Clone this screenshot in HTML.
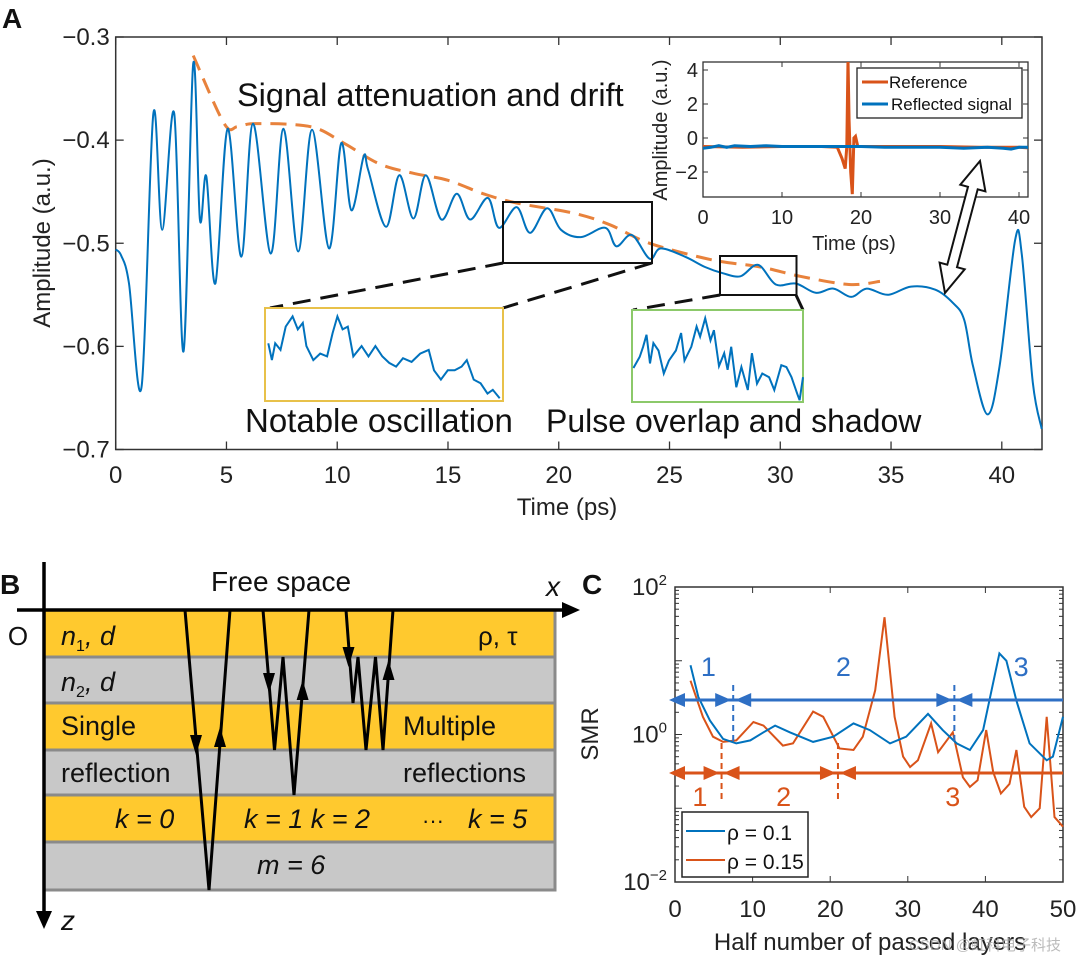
<!DOCTYPE html>
<html><head><meta charset="utf-8">
<style>
html,body{margin:0;padding:0;background:#fff;}
svg{display:block;font-family:"Liberation Sans","Noto Sans CJK SC",sans-serif;}
</style></head>
<body>
<svg id="fig" width="1080" height="962" viewBox="0 0 1080 962" xmlns="http://www.w3.org/2000/svg">
<defs><clipPath id="inclip"><rect x="703" y="62" width="325" height="135"/></clipPath></defs>
<g id="panelA"></g>
<g id="panelB"></g>
<g id="panelC"></g>
</svg>
<script>
// ---------- Panel A data ----------
const sigT = [0,0.25,0.6,1.17,1.7,2.1,2.64,3.06,3.5,3.8,4.09,4.5,5.05,5.67,6.2,7.0,7.57,8.24,8.86,9.63,10.18,10.64,11.19,11.4,12.2,12.8,13.44,14.0,14.7,15.4,16.0,16.8,17.3,18.1,18.7,19.47,20.1,21.0,22.1,22.6,23.3,24.1,24.6,25.7,26.6,27.4,28.2,29.0,29.8,30.7,31.6,32.4,33.2,33.9,34.86,35.9,37.0,37.8,38.3,38.7,39.36,39.9,40.6,40.9,41.4,41.8];
const sigA = [-0.506,-0.512,-0.539,-0.639,-0.374,-0.487,-0.374,-0.605,-0.326,-0.477,-0.435,-0.539,-0.389,-0.513,-0.384,-0.51,-0.389,-0.508,-0.39,-0.505,-0.403,-0.468,-0.416,-0.429,-0.484,-0.434,-0.476,-0.434,-0.477,-0.452,-0.477,-0.456,-0.485,-0.465,-0.49,-0.466,-0.487,-0.494,-0.485,-0.503,-0.492,-0.515,-0.505,-0.513,-0.523,-0.529,-0.532,-0.521,-0.54,-0.539,-0.548,-0.544,-0.552,-0.544,-0.55,-0.542,-0.545,-0.558,-0.574,-0.619,-0.666,-0.619,-0.497,-0.51,-0.635,-0.68];
const envT = [3.5,4.9,5.5,6.3,8.8,10.3,11.9,13.4,15.0,16.6,18.1,20.7,22.3,24.1,26.9,29.1,30.9,33.1,34.5];
const envA = [-0.318,-0.384,-0.387,-0.384,-0.387,-0.403,-0.423,-0.432,-0.439,-0.452,-0.461,-0.471,-0.482,-0.5,-0.516,-0.523,-0.532,-0.54,-0.537];
const xTicksA = [0,5,10,15,20,25,30,35,40];
const yTicksA = [-0.3,-0.4,-0.5,-0.6,-0.7];
const refT = [0,5,10,15,17,17.6,18.0,18.2,18.35,18.5,18.7,18.9,19.1,19.3,19.6,25,30,35,40,41.7];
const refV = [-0.5,-0.55,-0.5,-0.5,-0.55,-1.2,-1.8,-0.5,4.6,1,-2,-3.3,0,0.1,-0.5,-0.5,-0.5,-0.55,-0.55,-0.6];
const reflT = [0,1,2,3,4,6,8,10,12,15,18,20,23,26,30,33,36,38,39,40,41,41.7];
const reflV = [-0.6,-0.55,-0.45,-0.55,-0.45,-0.5,-0.45,-0.5,-0.5,-0.5,-0.5,-0.5,-0.55,-0.55,-0.55,-0.6,-0.55,-0.6,-0.65,-0.55,-0.55,-0.65];
const inXTicks = [0,10,20,30,40];
const inYTicks = [4,2,0,-2];
const zoomAu = [0.014,0.029,0.043,0.065,0.087,0.116,0.138,0.159,0.174,0.203,0.232,0.261,0.284,0.304,0.326,0.348,0.371,0.406,0.435,0.464,0.493,0.522,0.551,0.58,0.616,0.652,0.688,0.710,0.739,0.768,0.797,0.826,0.848,0.877,0.906,0.935,0.957,0.986];
const zoomAv = [0.38,0.56,0.38,0.45,0.2,0.09,0.23,0.16,0.41,0.56,0.49,0.52,0.27,0.09,0.23,0.2,0.52,0.41,0.52,0.41,0.52,0.59,0.63,0.54,0.58,0.49,0.45,0.67,0.77,0.67,0.67,0.63,0.56,0.77,0.81,0.92,0.88,0.97];
const zoomBu = [0.008,0.045,0.065,0.085,0.105,0.125,0.155,0.186,0.216,0.257,0.287,0.307,0.347,0.378,0.398,0.428,0.459,0.479,0.509,0.539,0.559,0.58,0.61,0.64,0.677,0.701,0.731,0.762,0.802,0.832,0.873,0.903,0.933,0.966,0.98,1.0];
const zoomBv = [0.63,0.51,0.4,0.27,0.58,0.36,0.44,0.69,0.55,0.44,0.25,0.55,0.4,0.18,0.29,0.09,0.33,0.22,0.61,0.47,0.65,0.4,0.84,0.62,0.87,0.47,0.8,0.69,0.73,0.87,0.6,0.62,0.73,0.91,0.98,0.73];
// ---------- Panel C data ----------
const c1X = [2,3,4.5,6.2,7.9,9.7,11.4,12.9,14.8,17.8,20.4,23,25.1,27.7,29.8,32.6,34.5,36.3,38,39.7,41.8,42.7,44,45.7,47.9,48.7,50];
const c1L = [0.94,0.51,0.19,-0.06,-0.12,-0.08,0.03,0.12,0.03,-0.1,-0.03,0.15,0.06,-0.12,-0.03,0.28,0.06,-0.12,-0.21,0.06,1.1,1.0,0.46,-0.12,-0.35,-0.3,0.24];
const c2X = [2,3.6,4.9,6.2,7.9,10.1,11.4,13.9,15.2,17.8,19.1,21.2,23,24.2,25.8,27,28.3,29.4,30.3,31.3,33,33.9,35.8,37.1,38,39,40.1,41,42,43.1,44,45,45.9,47,47.9,48.9,50];
const c2L = [0.73,0.24,-0.03,-0.1,-0.08,0.17,0.12,-0.15,-0.12,0.31,0.24,-0.19,-0.21,-0.03,0.6,1.59,0.24,-0.3,-0.44,-0.35,0.15,-0.24,0.03,-0.58,-0.71,-0.62,0.06,-0.51,-0.8,-0.67,-0.21,-0.98,-1.12,-1.0,0.24,-1.12,-1.25];
const xTicksC = [0,10,20,30,40,50];
const blueSplits = [7.5,36];
const orangeSplits = [6,21];

const NS="http://www.w3.org/2000/svg";
const BLUE="#0072BD", ORANGE="#D95319", ENV="#E8823C";
function el(tag, attrs, parent){const e=document.createElementNS(NS,tag);for(const k in attrs)e.setAttribute(k,attrs[k]);parent.appendChild(e);return e;}
function txt(parent,x,y,s,size,anchor,extra){const t=el('text',Object.assign({x:x,y:y,'font-size':size,'text-anchor':anchor||'start',fill:'#111'},extra||{}),parent);t.textContent=s;return t;}
function catmull(pts){let d=`M${pts[0][0]},${pts[0][1]}`;for(let i=0;i<pts.length-1;i++){const p0=pts[Math.max(0,i-1)],p1=pts[i],p2=pts[i+1],p3=pts[Math.min(pts.length-1,i+2)];const c1=[p1[0]+(p2[0]-p0[0])/6,p1[1]+(p2[1]-p0[1])/6],c2=[p2[0]-(p3[0]-p1[0])/6,p2[1]-(p3[1]-p1[1])/6];d+=` C${c1[0].toFixed(1)},${c1[1].toFixed(1)} ${c2[0].toFixed(1)},${c2[1].toFixed(1)} ${p2[0].toFixed(1)},${p2[1].toFixed(1)}`;}return d;}
function poly(pts){return 'M'+pts.map(p=>p[0].toFixed(1)+','+p[1].toFixed(1)).join(' L');}

// ===== Panel A =====
const A=document.getElementById('panelA');
const aL=115.7,aR=1042,aT=37,aB=449.5;
const ax=t=>aL+t*(1001.8-aL)/40, ay=v=>aT+(-0.3-v)*(aB-aT)/0.4;
let t,p,r;
t=txt(A,2,28,'A',28,'start',{'font-weight':'bold'});


const frame=el('rect',{x:aL,y:aT,width:aR-aL,height:aB-aT,fill:'none',stroke:'#333','stroke-width':1.5},A);


xTicksA.forEach(v=>{const x=ax(v);el('line',{x1:x,x2:x,y1:aB,y2:aB-8,stroke:'#333','stroke-width':1.3},A);el('line',{x1:x,x2:x,y1:aT,y2:aT+8,stroke:'#333','stroke-width':1.3},A);
 const l=txt(A,x,483,String(v),24,'middle',{fill:'#222'});
 
 });
yTicksA.forEach(v=>{const y=ay(v);el('line',{x1:aL,x2:aL+8,y1:y,y2:y,stroke:'#333','stroke-width':1.3},A);el('line',{x1:aR,x2:aR-8,y1:y,y2:y,stroke:'#333','stroke-width':1.3},A);
 const l=txt(A,aL-6,y+8,'\u2212'+Math.abs(v).toFixed(1),24,'end',{fill:'#222'});
 
 });
t=txt(A,567,515,'Time (ps)',24,'middle',{fill:'#222'});


t=txt(A,0,0,'Amplitude (a.u.)',24,'middle',{fill:'#222',transform:'translate(50,243) rotate(-90)'});


const env=el('path',{d:catmull(envT.map((v,i)=>[ax(v),ay(envA[i])])),fill:'none',stroke:ENV,'stroke-width':3,'stroke-dasharray':'16,9'},A);


const sig=el('path',{d:catmull(sigT.map((v,i)=>[ax(v),ay(sigA[i])])),fill:'none',stroke:BLUE,'stroke-width':2},A);


t=txt(A,237,106,'Signal attenuation and drift',32.5,'start');


t=txt(A,245,432,'Notable oscillation',33,'start');


t=txt(A,546,432,'Pulse overlap and shadow',32,'start');


r=el('rect',{x:503,y:202,width:149,height:61,fill:'none',stroke:'#111','stroke-width':2},A);


r=el('rect',{x:720,y:256,width:76.5,height:39,fill:'none',stroke:'#111','stroke-width':2},A);


[[503,263,270,308],[652,263,503,308],[720,295,633,310],[796,295,803,310]].forEach(s=>{const l=el('line',{x1:s[0],y1:s[1],x2:s[2],y2:s[3],stroke:'#111','stroke-width':3,'stroke-dasharray':'18,10'},A);
 
 });
function detail(x,y,w,h,col,us,vs,name){const b=el('rect',{x:x,y:y,width:w,height:h,fill:'#fff',stroke:col,'stroke-width':2},A);
 
 
 const q=el('path',{d:poly(us.map((u,i)=>[x+u*w,y+vs[i]*h])),fill:'none',stroke:BLUE,'stroke-width':2},A);
 
 }
detail(265,308,238,93,'#E8C14A',zoomAu,zoomAv,'oscillation-detail');
detail(632,310,171,92,'#8CC96A',zoomBu,zoomBv,'overlap-detail');
// inset
const iL=703,iR=1028,iT=62,iB=197;
const ix=v=>iL+v*(1019-iL)/40, iy=v=>138-v*17;
const ib=el('rect',{x:iL,y:iT,width:iR-iL,height:iB-iT,fill:'#fff',stroke:'#333','stroke-width':1.3},A);


inXTicks.forEach(v=>{const x=ix(v);el('line',{x1:x,x2:x,y1:iB,y2:iB-5,stroke:'#333'},A);el('line',{x1:x,x2:x,y1:iT,y2:iT+5,stroke:'#333'},A);
 const l=txt(A,x,224,String(v),20,'middle',{fill:'#222'});
 
 });
inYTicks.forEach(v=>{const y=iy(v);el('line',{x1:iL,x2:iL+5,y1:y,y2:y,stroke:'#333'},A);el('line',{x1:iR,x2:iR-5,y1:y,y2:y,stroke:'#333'},A);
 const l=txt(A,iL-5,y+7,(v<0?'\u2212':'')+Math.abs(v),20,'end',{fill:'#222'});
 
 });
t=txt(A,854,250,'Time (ps)',20,'middle',{fill:'#222'});


t=txt(A,0,0,'Amplitude (a.u.)',20,'middle',{fill:'#222',transform:'translate(667,130) rotate(-90)'});


p=el('path',{d:poly(refT.map((v,i)=>[ix(v),iy(refV[i])])),fill:'none',stroke:ORANGE,'stroke-width':3,'clip-path':'url(#inclip)'},A);


p=el('path',{d:poly(reflT.map((v,i)=>[ix(v),iy(reflV[i])])),fill:'none',stroke:BLUE,'stroke-width':3,'clip-path':'url(#inclip)'},A);


const lg=el('rect',{x:857,y:68,width:165,height:50,fill:'#fff',stroke:'#222','stroke-width':1.3},A);


el('line',{x1:862,x2:888,y1:82,y2:82,stroke:ORANGE,'stroke-width':3},A);
el('line',{x1:862,x2:888,y1:104,y2:104,stroke:BLUE,'stroke-width':3},A);
t=txt(A,889,88,'Reference',17,'start');


t=txt(A,891,110,'Reflected signal',17,'start');


// double arrow (drawn over inset)
(function(){const P1=[980,161],P2=[945,293];const dx=P2[0]-P1[0],dy=P2[1]-P1[1],L=Math.hypot(dx,dy);const u=[dx/L,dy/L],n=[-u[1],u[0]];
 const hl=28,hw=13,sw=5;const f=(b,a,w)=>[(b[0]+u[0]*a+n[0]*w).toFixed(1),(b[1]+u[1]*a+n[1]*w).toFixed(1)].join(',');
 const pts=[f(P1,0,0),f(P1,hl,hw),f(P1,hl,sw),f(P2,-hl,sw),f(P2,-hl,hw),f(P2,0,0),f(P2,-hl,-hw),f(P2,-hl,-sw),f(P1,hl,-sw),f(P1,hl,-hw)];
 const d=el('path',{d:'M'+pts.join(' L')+' Z',fill:'#fff',stroke:'#111','stroke-width':2,'stroke-linejoin':'miter'},A);
 
 })();

// ===== Panel B =====
const B=document.getElementById('panelB');
t=txt(B,0,594,'B',28,'start',{'font-weight':'bold'});


const layerY=[610,657,703,750,795,842,890];
for(let i=0;i<6;i++){const rr=el('rect',{x:44,y:layerY[i],width:511,height:layerY[i+1]-layerY[i],fill:i%2?'#C8C8C8':'#FFC92E',stroke:'#8a8a8a','stroke-width':3},B);
 
 }
el('line',{x1:17,x2:566,y1:610,y2:610,stroke:'#000','stroke-width':3.5},B);
el('path',{d:'M580,610 L562,602 L562,618 Z',fill:'#000'},B);
el('line',{x1:44,x2:44,y1:562,y2:915,stroke:'#000','stroke-width':3.5},B);
el('path',{d:'M44,929 L36,911 L52,911 Z',fill:'#000'},B);
const Blab=[['Free space',281,591,'middle',28,''],['x',553,596,'middle',28,'italic'],['O',18,645,'middle',26,''],['z',68,930,'middle',28,'italic'],
['ρ, τ',478,645,'start',26,''],['Single',61,735,'start',27,''],['Multiple',403,735,'start',27,''],['reflection',61,782,'start',27,''],['reflections',403,782,'start',27,''],
['k = 0',115,828,'start',27,'italic'],['k = 1 k = 2',244,828,'start',27,'italic'],['···',422,828,'start',22,''],['k = 5',468,828,'start',27,'italic'],['m = 6',257,874,'start',27,'italic']];
Blab.forEach(b=>{const l=txt(B,b[1],b[2],b[0],b[4],b[3],b[5]?{'font-style':b[5]}:{});
 
 });
t=el('text',{x:61,y:645,'font-size':27,'font-style':'italic',fill:'#111'},B);t.innerHTML='n<tspan font-size="16" dy="6" font-style="normal">1</tspan><tspan dy="-6">, d</tspan>';


t=el('text',{x:61,y:691,'font-size':27,'font-style':'italic',fill:'#111'},B);t.innerHTML='n<tspan font-size="16" dy="6" font-style="normal">2</tspan><tspan dy="-6">, d</tspan>';


const rays=[[[185,610],[209,890],[230,610]],[[263,610],[274.5,750],[283,657],[294,795],[309,610]],[[346,610],[353,703],[358,657],[366,750],[375.5,657],[383,750],[393,610]]];
rays.forEach(rp=>{const l=el('path',{d:poly(rp),fill:'none',stroke:'#000','stroke-width':3,'stroke-linejoin':'miter'},B);
 
 });
[[196,745,1],[220,737,-1],[269,683,1],[302.6,690,-1],[348.5,657,1],[388.5,670,-1]].forEach(a=>{const d=a[2];
 el('path',{d:`M${a[0]},${a[1]+d*10} L${a[0]-6},${a[1]-d*10} L${a[0]+6},${a[1]-d*10} Z`,fill:'#000'},B);});

// ===== Panel C =====
const C=document.getElementById('panelC');
const cL=675,cR=1063,cT=587,cB=882;
const cx=v=>cL+v*(cR-cL)/50, cy=l=>cT+(2-l)*(cB-cT)/4;
t=txt(C,582,594,'C',28,'start',{'font-weight':'bold'});


const cf=el('rect',{x:cL,y:cT,width:cR-cL,height:cB-cT,fill:'#fff',stroke:'#333','stroke-width':1.5},C);


xTicksC.forEach(v=>{const x=cx(v);el('line',{x1:x,x2:x,y1:cB,y2:cB-6,stroke:'#333'},C);el('line',{x1:x,x2:x,y1:cT,y2:cT+6,stroke:'#333'},C);
 const l=txt(C,x,917,String(v),24,'middle',{fill:'#222'});
 
 });
for(let d=-2;d<2;d++){for(let m=1;m<10;m++){const y=cy(d+Math.log10(m));const w=m==1?7:4;el('line',{x1:cL,x2:cL+w,y1:y,y2:y,stroke:'#333'},C);el('line',{x1:cR,x2:cR-w,y1:y,y2:y,stroke:'#333'},C);}}
[[2,'2'],[0,'0'],[-2,'\u22122']].forEach(e=>{const y=cy(e[0]);const l=el('text',{x:cL-8,y:y+8,'font-size':24,'text-anchor':'end',fill:'#222'},C);l.innerHTML='10<tspan font-size="15" dy="-10">'+e[1]+'</tspan>';
 
 });
t=txt(C,0,0,'SMR',24,'middle',{fill:'#222',transform:'translate(598,734) rotate(-90)'});


t=txt(C,870,950,'Half number of passed layers',24,'middle',{fill:'#222'});


t=txt(C,985,950,'CSDN @虹科电子科技',15,'middle',{fill:'#aaa','fill-opacity':0.8});


p=el('path',{d:poly(c2X.map((v,i)=>[cx(v),cy(c2L[i])])),fill:'none',stroke:ORANGE,'stroke-width':2},C);


p=el('path',{d:poly(c1X.map((v,i)=>[cx(v),cy(c1L[i])])),fill:'none',stroke:BLUE,'stroke-width':2},C);


function regionRow(y,splits,col,dashTop,dashBot,labels,ly,name){
 el('line',{x1:cL,x2:cR,y1:y,y2:y,stroke:col,'stroke-width':3},C);
 const edges=[0].concat(splits);
 splits.forEach(s=>{const l=el('line',{x1:cx(s),x2:cx(s),y1:dashTop,y2:dashBot,stroke:col,'stroke-width':2,'stroke-dasharray':'6,4'},C);
  
  });
 edges.forEach((e,i)=>{const x=cx(e)+(i==0?-6:2);el('path',{d:`M${x},${y} L${x+16},${y-7} L${x+16},${y+7} Z`,fill:col},C);});
 splits.forEach(s=>{const x=cx(s)-2;el('path',{d:`M${x},${y} L${x-16},${y-7} L${x-16},${y+7} Z`,fill:col},C);});
 labels.forEach((lx,i)=>{const l=txt(C,cx(lx),ly,String(i+1),27,'middle',{fill:col});
  
  });
}
regionRow(700,blueSplits,'#2E6FC4',685,743,[4.3,21.7,44.6],676,'blue-region');
regionRow(773,orangeSplits,'#D95319',743,803,[3.2,14,35.8],806,'orange-region');
const lgC=el('rect',{x:682,y:812,width:126,height:65,fill:'#fff',stroke:'#222','stroke-width':1.5},C);


el('line',{x1:686,x2:725,y1:831,y2:831,stroke:BLUE,'stroke-width':2},C);
el('line',{x1:686,x2:725,y1:860,y2:860,stroke:ORANGE,'stroke-width':2},C);
t=txt(C,727,840,'ρ = 0.1',21,'start');


t=txt(C,727,869,'ρ = 0.15',21,'start');


</script>
</body></html>
